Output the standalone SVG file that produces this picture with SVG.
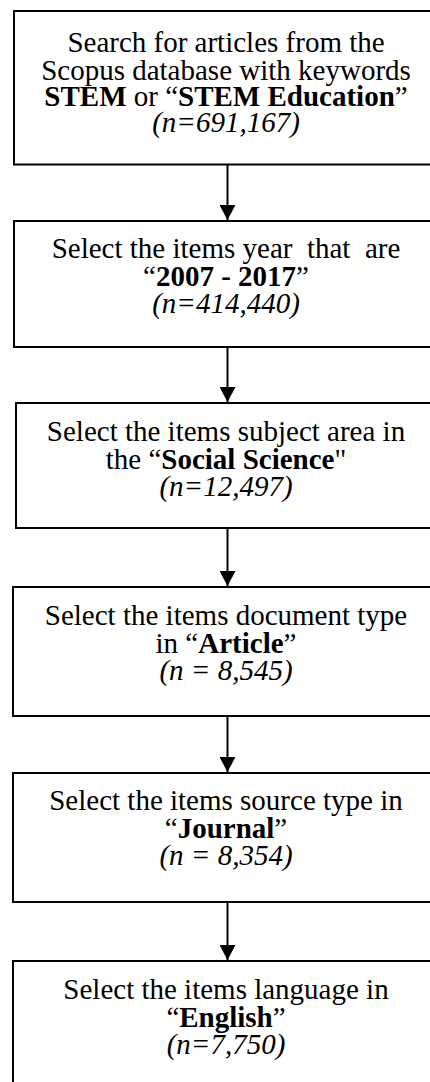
<svg xmlns="http://www.w3.org/2000/svg" width="430" height="1082" viewBox="0 0 430 1082">
<style>
  .box { fill: #ffffff; stroke: #000000; stroke-width: 2; }
  .t { font-family: "Liberation Serif", "Times New Roman", serif; font-size: 29px; fill: #000000; text-anchor: middle; }
  .b { font-weight: bold; }
  .i { font-style: italic; }
  .conn { stroke: #000000; stroke-width: 2; fill: none; marker-end: url(#ah); }
</style>
<defs>
  <marker id="ah" viewBox="0 0 16 16" markerWidth="16" markerHeight="16" refX="15" refY="8" orient="auto" markerUnits="userSpaceOnUse">
    <path d="M0,0 L15,8 L0,16 z" fill="#000000"/>
  </marker>
</defs>
<rect width="430" height="1082" fill="#ffffff"/>
<g id="connectors">
  <line class="conn" x1="227.5" y1="165" x2="227.5" y2="220"/>
  <line class="conn" x1="227.5" y1="347" x2="227.5" y2="402"/>
  <line class="conn" x1="227.5" y1="528" x2="227.5" y2="586"/>
  <line class="conn" x1="227.5" y1="716" x2="227.5" y2="772"/>
  <line class="conn" x1="227.5" y1="902" x2="227.5" y2="960"/>
</g>
<g id="node1">
  <rect class="box" x="14" y="11" width="430" height="153.5"/>
  <text class="t" x="226" y="52">Search for articles from the</text>
  <text class="t" x="226" y="79.5">Scopus database with keywords</text>
  <text class="t" x="226" y="106"><tspan class="b">STEM</tspan> or “<tspan class="b">STEM Education</tspan>”</text>
  <text class="t i" x="226" y="132">(n=691,167)</text>
</g>
<g id="node2">
  <rect class="box" x="14" y="221" width="430" height="126"/>
  <text class="t" x="226" y="258" xml:space="preserve">Select the items year  that  are</text>
  <text class="t" x="226" y="285.5">“<tspan class="b">2007 - 2017</tspan>”</text>
  <text class="t i" x="226" y="313">(n=414,440)</text>
</g>
<g id="node3">
  <rect class="box" x="16" y="403" width="430" height="125"/>
  <text class="t" x="226" y="441">Select the items subject area in</text>
  <text class="t" x="226" y="468.5">the “<tspan class="b">Social Science</tspan>"</text>
  <text class="t i" x="226" y="496">(n=12,497)</text>
</g>
<g id="node4">
  <rect class="box" x="13" y="587" width="430" height="129"/>
  <text class="t" x="226" y="625">Select the items document type</text>
  <text class="t" x="226" y="652.5">in “<tspan class="b">Article</tspan>”</text>
  <text class="t i" x="226" y="680">(n = 8,545)</text>
</g>
<g id="node5">
  <rect class="box" x="13" y="773" width="430" height="129"/>
  <text class="t" x="226" y="810">Select the items source type in</text>
  <text class="t" x="226" y="837.5">“<tspan class="b">Journal</tspan>”</text>
  <text class="t i" x="226" y="865">(n = 8,354)</text>
</g>
<g id="node6">
  <rect class="box" x="13" y="961" width="430" height="200"/>
  <text class="t" x="226" y="999">Select the items language in</text>
  <text class="t" x="226" y="1026.5">“<tspan class="b">English</tspan>”</text>
  <text class="t i" x="226" y="1054">(n=7,750)</text>
</g>
</svg>
